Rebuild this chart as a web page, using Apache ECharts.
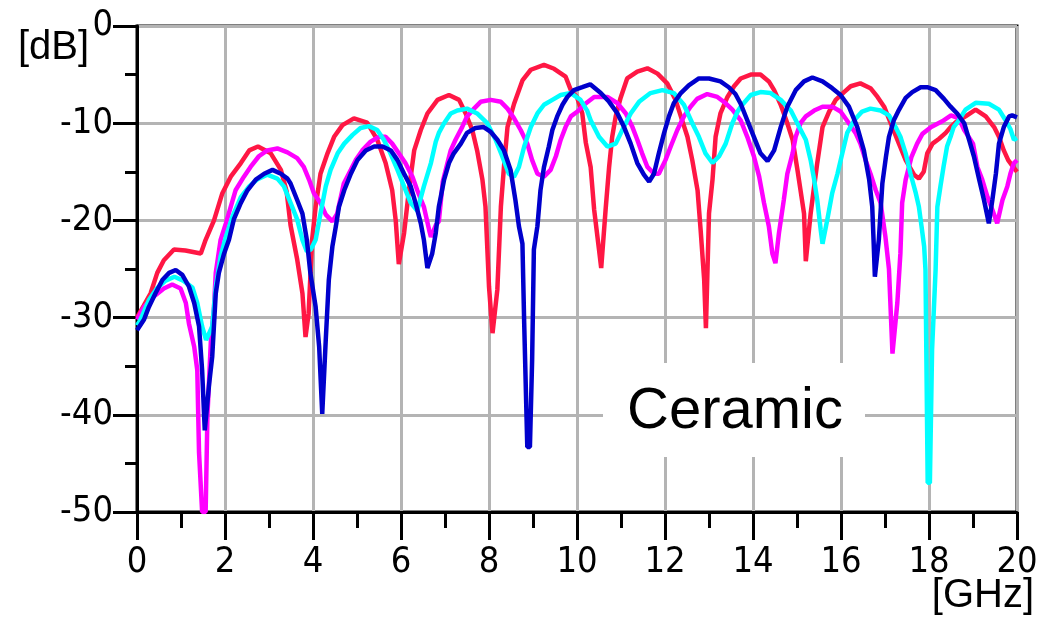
<!DOCTYPE html>
<html>
<head>
<meta charset="utf-8">
<script src="https://cdn.jsdelivr.net/npm/echarts@6/dist/echarts.min.js"></script>
<style>
    html, body { margin: 0; padding: 0; background: #fff; }
    #chart { width: 1042px; height: 621px; }
</style>
</head>
<body>
<div id="chart"></div>
<script>
    // [GHz, dB] pairs
    const redTrace = [[0,-30],[0.15,-28.8],[0.31,-27.5],[0.46,-25.4],[0.61,-24.1],[0.84,-23.0],[1.1,-23.1],[1.45,-23.4],[1.56,-22.0],[1.75,-20.0],[1.94,-17.2],[2.13,-15.5],[2.36,-14.1],[2.55,-12.8],[2.75,-12.4],[3.04,-13.1],[3.27,-14.8],[3.4,-17],[3.49,-20.5],[3.64,-24],[3.76,-27.5],[3.83,-32.0],[3.9,-29.6],[3.98,-22],[4.06,-18.6],[4.17,-15.2],[4.33,-13.1],[4.48,-11.4],[4.67,-10.2],[4.93,-9.5],[5.23,-9.95],[5.46,-11.7],[5.65,-14.1],[5.8,-16.9],[5.88,-20],[5.95,-24.5],[6.07,-21.3],[6.18,-16.9],[6.3,-12.8],[6.45,-10.7],[6.6,-9],[6.83,-7.6],[7.09,-7.1],[7.32,-7.6],[7.47,-9.0],[7.62,-10.7],[7.73,-12.8],[7.85,-15.8],[7.92,-18.6],[8.0,-26.8],[8.08,-31.6],[8.19,-27.1],[8.27,-18.6],[8.34,-14.5],[8.42,-10.4],[8.57,-8.0],[8.76,-5.6],[8.95,-4.5],[9.25,-4.0],[9.48,-4.4],[9.74,-5.2],[9.86,-6.6],[10.0,-7.3],[10.12,-9],[10.2,-12.0],[10.31,-14.5],[10.39,-18.9],[10.5,-23],[10.55,-24.9],[10.65,-18.9],[10.73,-14.5],[10.8,-11.4],[10.88,-9.3],[10.99,-7.4],[11.14,-5.4],[11.37,-4.7],[11.6,-4.35],[11.83,-4.9],[12.05,-5.9],[12.24,-7.6],[12.36,-9.3],[12.51,-11.4],[12.62,-13.8],[12.74,-16.9],[12.81,-21],[12.89,-26.1],[12.93,-31.1],[13.0,-19.3],[13.08,-15.8],[13.15,-11.4],[13.26,-9.0],[13.42,-7.3],[13.57,-6.2],[13.72,-5.4],[13.95,-5.0],[14.17,-5.0],[14.36,-5.7],[14.48,-6.6],[14.63,-8.1],[14.78,-10],[14.9,-11.7],[15.01,-14.8],[15.08,-16.9],[15.16,-19.3],[15.2,-24.2],[15.31,-19.3],[15.39,-16.5],[15.46,-14.1],[15.58,-10.4],[15.73,-8.8],[15.88,-7.6],[16.07,-6.8],[16.22,-6.2],[16.44,-5.9],[16.67,-6.4],[16.83,-7.3],[16.98,-8.3],[17.13,-10],[17.28,-11.7],[17.47,-13.8],[17.66,-15.3],[17.77,-15.7],[17.88,-15],[17.96,-13.1],[18.08,-12.1],[18.23,-11.6],[18.38,-11.0],[18.49,-10.4],[18.61,-9.9],[18.83,-9.3],[19.06,-8.6],[19.29,-9.3],[19.48,-10.4],[19.59,-11.4],[19.7,-12.8],[19.8,-13.8],[19.93,-14.6],[20,-15]];

    const magentaTrace = [[0,-30.2],[0.16,-28.9],[0.39,-27.8],[0.61,-27],[0.8,-26.6],[0.99,-27],[1.11,-28.5],[1.18,-30.6],[1.3,-33],[1.37,-35.4],[1.41,-43.9],[1.48,-50],[1.56,-50],[1.6,-40.2],[1.68,-32.3],[1.75,-28.9],[1.79,-25.4],[1.9,-22],[2.02,-20.3],[2.13,-18.6],[2.24,-16.9],[2.43,-15.5],[2.58,-14.5],[2.77,-13.4],[2.96,-12.8],[3.19,-12.6],[3.42,-13.0],[3.64,-13.6],[3.79,-14.5],[3.91,-15.8],[4.02,-17.2],[4.17,-18.2],[4.29,-19.4],[4.44,-20.1],[4.55,-19.3],[4.7,-16.2],[4.86,-14.8],[4.97,-13.8],[5.12,-12.8],[5.31,-11.9],[5.5,-11.4],[5.65,-11.4],[5.8,-12.1],[5.95,-13.1],[6.1,-14.1],[6.26,-15.5],[6.37,-16.9],[6.52,-18.6],[6.64,-21],[6.68,-21.7],[6.79,-20.5],[6.86,-20.1],[6.95,-16],[7.05,-14.2],[7.13,-12.8],[7.24,-11.7],[7.39,-10.4],[7.5,-9.3],[7.66,-8.5],[7.81,-7.8],[8.04,-7.6],[8.27,-7.8],[8.42,-8.5],[8.57,-9.5],[8.72,-10.7],[8.87,-12.1],[8.98,-13.8],[9.1,-15.2],[9.25,-15.5],[9.4,-14.8],[9.52,-13.4],[9.63,-11.7],[9.74,-10.4],[9.86,-9.3],[10.01,-8.8],[10.16,-8.1],[10.39,-7.3],[10.69,-7.3],[10.92,-7.95],[11.11,-9],[11.26,-10.4],[11.37,-11.7],[11.48,-13.1],[11.6,-14.5],[11.75,-15.2],[11.86,-15.2],[12.01,-13.8],[12.13,-12.4],[12.28,-10.7],[12.43,-9.3],[12.58,-8.3],[12.73,-7.5],[12.96,-7.0],[13.19,-7.3],[13.38,-7.95],[13.53,-8.6],[13.72,-9.7],[13.87,-11.4],[14.02,-13.4],[14.14,-15.5],[14.25,-18.2],[14.36,-20.6],[14.44,-23.4],[14.51,-24.4],[14.59,-21.3],[14.7,-17.9],[14.78,-15.2],[14.9,-13.1],[14.97,-11.4],[15.08,-10],[15.2,-9.3],[15.39,-8.7],[15.58,-8.3],[15.8,-8.3],[15.99,-8.8],[16.18,-10],[16.33,-11.0],[16.44,-12.1],[16.56,-13.8],[16.67,-15.2],[16.79,-16.9],[16.9,-18.2],[17.01,-21.7],[17.09,-25],[17.17,-33.7],[17.28,-28.5],[17.35,-23.4],[17.39,-18.2],[17.47,-15.8],[17.6,-13.5],[17.73,-12.1],[17.85,-11.1],[18.05,-10.4],[18.3,-9.8],[18.5,-9.2],[18.68,-9.5],[18.8,-10.7],[19.0,-12.1],[19.1,-14.5],[19.21,-15.8],[19.33,-17.6],[19.44,-18.9],[19.55,-20.3],[19.67,-17.9],[19.78,-16.5],[19.85,-15.2],[19.93,-14.1],[20,-13.8]];

    const cyanTrace = [[0,-30.8],[0.07,-30.3],[0.27,-28.2],[0.45,-27],[0.65,-26.2],[0.85,-25.8],[1.05,-26.2],[1.26,-26.9],[1.37,-28.5],[1.48,-30.9],[1.57,-32.3],[1.71,-30.9],[1.79,-26.9],[1.9,-23.7],[2.02,-21.7],[2.17,-19.6],[2.36,-17.6],[2.55,-16.5],[2.73,-15.8],[2.96,-15.3],[3.19,-15.7],[3.34,-16.5],[3.49,-18.2],[3.64,-19.9],[3.76,-22],[3.86,-23.2],[3.95,-23.0],[4.06,-22],[4.17,-19.3],[4.29,-16.5],[4.4,-14.8],[4.56,-13.1],[4.71,-12.1],[4.9,-11.2],[5.08,-10.5],[5.27,-10.3],[5.46,-10.7],[5.61,-11.7],[5.76,-13.1],[5.92,-14.8],[6.07,-16.5],[6.22,-18.2],[6.37,-19],[6.52,-16.5],[6.68,-14.1],[6.79,-11.9],[6.86,-11.0],[6.98,-10],[7.13,-9.0],[7.28,-8.7],[7.5,-8.5],[7.73,-9.0],[7.96,-10],[8.15,-11.7],[8.3,-13.4],[8.45,-15.2],[8.57,-15.5],[8.68,-14.5],[8.8,-12.4],[8.95,-10.4],[9.1,-9.0],[9.25,-8.1],[9.44,-7.6],[9.63,-7.1],[9.86,-6.9],[10.08,-7.6],[10.23,-8.7],[10.31,-9.7],[10.5,-11.4],[10.69,-12.4],[10.88,-12.1],[11.03,-10.7],[11.22,-9.0],[11.41,-7.8],[11.67,-6.9],[11.94,-6.6],[12.2,-6.9],[12.43,-8.1],[12.62,-10],[12.77,-11.4],[12.92,-13.1],[13.08,-14.1],[13.23,-13.4],[13.38,-12.1],[13.53,-10],[13.65,-8.8],[13.72,-8.3],[13.95,-7.1],[14.17,-6.8],[14.4,-6.9],[14.63,-7.6],[14.86,-8.7],[15.05,-10.4],[15.2,-11.7],[15.31,-13.8],[15.39,-15.8],[15.46,-17.9],[15.54,-21],[15.58,-22.4],[15.69,-19.9],[15.8,-17.2],[15.92,-15.2],[16.03,-13.1],[16.14,-11.0],[16.3,-9.7],[16.48,-8.8],[16.67,-8.5],[16.9,-8.7],[17.09,-9.2],[17.24,-10.4],[17.35,-11.4],[17.47,-13.1],[17.58,-15.2],[17.7,-17.2],[17.77,-18.6],[17.83,-20.6],[17.89,-22.7],[17.92,-25.1],[17.97,-47],[18.02,-47],[18.07,-33.3],[18.15,-25.1],[18.19,-18.6],[18.26,-16.5],[18.33,-14.5],[18.41,-12.4],[18.49,-11.4],[18.56,-10.4],[18.68,-9.7],[18.83,-8.6],[19.06,-7.9],[19.36,-8.0],[19.59,-8.6],[19.74,-9.7],[19.85,-10.6],[19.93,-11.7],[20,-11.5]];

    const blueTrace = [[0,-31.3],[0.16,-30.2],[0.27,-28.9],[0.42,-27.5],[0.58,-26.1],[0.73,-25.4],[0.88,-25.1],[1.03,-25.6],[1.18,-26.8],[1.3,-28.5],[1.41,-30.9],[1.48,-35.4],[1.54,-41.6],[1.64,-36.8],[1.71,-34],[1.79,-27.5],[1.86,-25.4],[1.98,-23.4],[2.09,-22],[2.2,-19.9],[2.36,-18.2],[2.51,-16.9],[2.7,-15.8],[2.89,-15.2],[3.08,-14.8],[3.27,-15.2],[3.42,-15.7],[3.49,-16.2],[3.64,-17.9],[3.76,-19.3],[3.86,-22],[3.94,-25.4],[4.06,-28.9],[4.14,-33],[4.21,-39.9],[4.29,-32.3],[4.36,-26.1],[4.44,-22.7],[4.52,-20.6],[4.59,-18.6],[4.71,-16.9],[4.86,-15.2],[5.01,-13.8],[5.2,-12.8],[5.39,-12.4],[5.58,-12.4],[5.77,-12.8],[5.92,-13.8],[6.07,-15.2],[6.22,-16.5],[6.33,-18.2],[6.45,-20.3],[6.52,-22],[6.6,-24.9],[6.71,-23.4],[6.79,-21.3],[6.86,-18.6],[6.98,-15.8],[7.09,-14.1],[7.2,-13.1],[7.36,-12.1],[7.5,-11.0],[7.69,-10.5],[7.88,-10.4],[8.04,-10.9],[8.19,-11.7],[8.34,-12.8],[8.49,-14.8],[8.6,-17.9],[8.68,-20.6],[8.76,-22.4],[8.8,-30.6],[8.87,-43.3],[8.93,-43.3],[8.98,-34.4],[9.02,-23.0],[9.1,-20.6],[9.17,-16.9],[9.25,-14.5],[9.36,-12.4],[9.44,-10.7],[9.55,-9.3],[9.67,-8.1],[9.78,-7.3],[9.93,-6.6],[10.12,-6.3],[10.3,-6.0],[10.54,-6.9],[10.73,-7.8],[10.92,-9.0],[11.07,-10.4],[11.22,-12.1],[11.37,-14.1],[11.52,-15.3],[11.64,-16],[11.75,-15.2],[11.86,-13.1],[11.98,-11.0],[12.09,-9.3],[12.2,-7.95],[12.36,-6.9],[12.54,-6.1],[12.77,-5.4],[13.0,-5.4],[13.26,-5.7],[13.45,-6.3],[13.6,-7.0],[13.72,-8.0],[13.87,-9.7],[14.02,-11.4],[14.17,-13.1],[14.33,-13.9],[14.48,-12.8],[14.63,-10.4],[14.78,-8.3],[14.97,-6.6],[15.16,-5.7],[15.35,-5.3],[15.58,-5.7],[15.8,-6.4],[15.99,-7.1],[16.18,-8.3],[16.37,-10.4],[16.52,-12.8],[16.64,-15.8],[16.71,-18.6],[16.74,-22],[16.77,-25.8],[16.86,-22],[16.94,-16.2],[17.02,-13.5],[17.09,-11.4],[17.2,-9.7],[17.32,-8.6],[17.47,-7.4],[17.62,-6.8],[17.81,-6.3],[17.96,-6.3],[18.15,-6.6],[18.34,-7.5],[18.49,-8.3],[18.64,-9.0],[18.8,-10],[18.91,-11.7],[19.02,-13.4],[19.14,-15.8],[19.25,-17.9],[19.36,-20.3],[19.44,-17.9],[19.52,-15.2],[19.59,-12.1],[19.7,-10.4],[19.82,-9.3],[19.89,-9.2],[20,-9.4]];

    const traces = [
        {data: redTrace, color: '#ff1744'},
        {data: magentaTrace, color: '#ff00ff'},
        {data: cyanTrace, color: '#00ffff'},
        {data: blueTrace, color: '#0000cc'}
    ];

    const tickFont = "'Liberation Sans Narrow', 'Arial Narrow', 'DejaVu Sans Condensed', Arial, sans-serif";
    const black = {color: '#000', width: 3};

    const chart = echarts.init(document.getElementById('chart'), null, {renderer: 'canvas'});
    chart.setOption({
        animation: false,
        backgroundColor: '#fff',
        grid: {
            left: 137, top: 26, width: 880, height: 486,
            show: true, borderColor: '#000', borderWidth: 3
        },
        xAxis: {
            type: 'value', min: 0, max: 20, interval: 2,
            axisLine: {onZero: false, lineStyle: black},
            axisTick: {length: 28, lineStyle: black},
            minorTick: {show: true, splitNumber: 2, length: 16, lineStyle: black},
            splitLine: {lineStyle: {color: '#b4b4b4', width: 3}},
            axisLabel: {margin: 33, fontSize: 36, color: '#000', fontFamily: tickFont}
        },
        yAxis: {
            type: 'value', min: -50, max: 0, interval: 10,
            axisLine: {show: true, onZero: false, lineStyle: black},
            axisTick: {show: true, length: 24, lineStyle: black},
            minorTick: {show: true, splitNumber: 2, length: 12, lineStyle: black},
            splitLine: {lineStyle: {color: '#b4b4b4', width: 3}},
            axisLabel: {margin: 24, fontSize: 36, color: '#000', fontFamily: tickFont, padding: [0, 0, 12, 0]}
        },
        series: traces.map(t => ({
            type: 'line',
            data: t.data,
            symbol: 'none',
            clip: true,
            lineStyle: {color: t.color, width: 4.5}
        })),
        graphic: [
            {type: 'text', left: 18, top: 28, style: {text: '[dB]', font: '40px Arial, "Liberation Sans", sans-serif', fill: '#000'}},
            {type: 'text', right: 8, top: 576, style: {text: '[GHz]', font: '40px Arial, "Liberation Sans", sans-serif', fill: '#000'}},
            {type: 'rect', shape: {x: 603, y: 363, width: 262, height: 94}, style: {fill: '#fff'}, z: 5},
            {type: 'text', x: 735, y: 412, z: 6, style: {text: 'Ceramic', font: '58px Arial, "Liberation Sans", sans-serif', fill: '#000', align: 'center', verticalAlign: 'middle'}}
        ]
    });
</script>
</body>
</html>
